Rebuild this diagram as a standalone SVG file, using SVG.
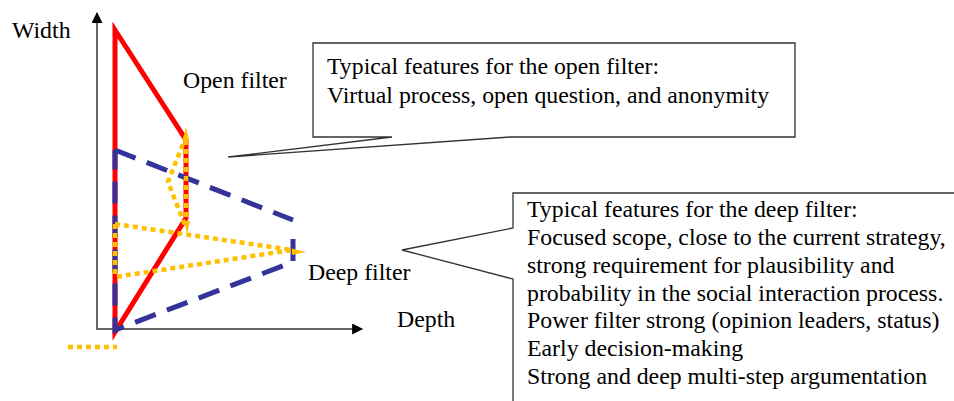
<svg xmlns="http://www.w3.org/2000/svg" width="954" height="401" viewBox="0 0 954 401">
  <style>
    .t { font-family: "Liberation Serif", "Times New Roman", serif; font-size: 23.8px; fill: #000; }
    .axis { stroke: #666; stroke-width: 2; fill: none; }
    .red { stroke: #ff0000; stroke-width: 5; fill: none; stroke-linejoin: miter; }
    .blue { stroke: #333399; stroke-width: 5; fill: none; stroke-dasharray: 22 12; }
    .yel { stroke: #ffc000; stroke-width: 4.5; fill: none; stroke-dasharray: 5 4; }
    .call { stroke: #333; stroke-width: 1.3; fill: #fff; }
  </style>
  <defs>
    <marker id="ah" viewBox="0 0 10 10" refX="9" refY="5" markerWidth="12" markerHeight="11" markerUnits="userSpaceOnUse" orient="auto">
      <path d="M0,0 L10,5 L0,10 Z" fill="#000"/>
    </marker>
  </defs>
  <rect width="954" height="401" fill="#fff"/>

  <g id="axes">
    <line class="axis" x1="97" y1="330" x2="97" y2="13" marker-end="url(#ah)"/>
    <line class="axis" x1="96" y1="329" x2="362" y2="329" marker-end="url(#ah)"/>
    <text class="t" x="12" y="38">Width</text>
    <text class="t" x="397" y="327">Depth</text>
  </g>

  <g id="open-filter">
    <polygon class="red" points="115,30 186,140 186,218 115,332"/>
    <text class="t" x="183" y="88">Open filter</text>
  </g>

  <g id="deep-filter">
    <path class="blue" d="M115,150 L293,220 M293,239 L293,262 L115,330 L115,150"/>
    <text class="t" x="308" y="280">Deep filter</text>
  </g>

  <g id="idea-flows">
    <polyline class="yel" points="186,136 168,182 186,228"/>
    <line class="yel" x1="186" y1="140" x2="186" y2="220"/>
    <path d="M186,127 L189,140 L183,140 Z" fill="#ffc000"/>
    <path d="M187,234 L190,221 L184,221 Z" fill="#ffc000"/>
    <polyline class="yel" points="115,224 292,250 115,277"/>
    <line class="yel" x1="115" y1="224" x2="115" y2="277"/>
    <path d="M306,252 L292,248.5 L292,255 Z" fill="#ffc000"/>
    <line class="yel" x1="68" y1="347" x2="117" y2="347"/>
  </g>

  <g id="connectors">
    <path class="call" d="M313,43 L795,43 L795,137 L510,137 L228,157 L392,137 L313,137 Z"/>
    <path class="call" d="M513,193 L960,193 L960,410 L513,410 L513,279 L402,250 L513,228 Z"/>
  </g>

  <g id="open-features">
    <text class="t" x="327" y="74">Typical features for the open filter:</text>
    <text class="t" x="327" y="103">Virtual process, open question, and anonymity</text>
  </g>

  <g id="deep-features">
    <text class="t" x="527" y="217">Typical features for the deep filter:</text>
    <text class="t" x="527" y="245">Focused scope, close to the current strategy,</text>
    <text class="t" x="527" y="273">strong requirement for plausibility and</text>
    <text class="t" x="527" y="301">probability in the social interaction process.</text>
    <text class="t" x="527" y="328">Power filter strong (opinion leaders, status)</text>
    <text class="t" x="527" y="356">Early decision-making</text>
    <text class="t" x="527" y="384">Strong and deep multi-step argumentation</text>
  </g>
</svg>
